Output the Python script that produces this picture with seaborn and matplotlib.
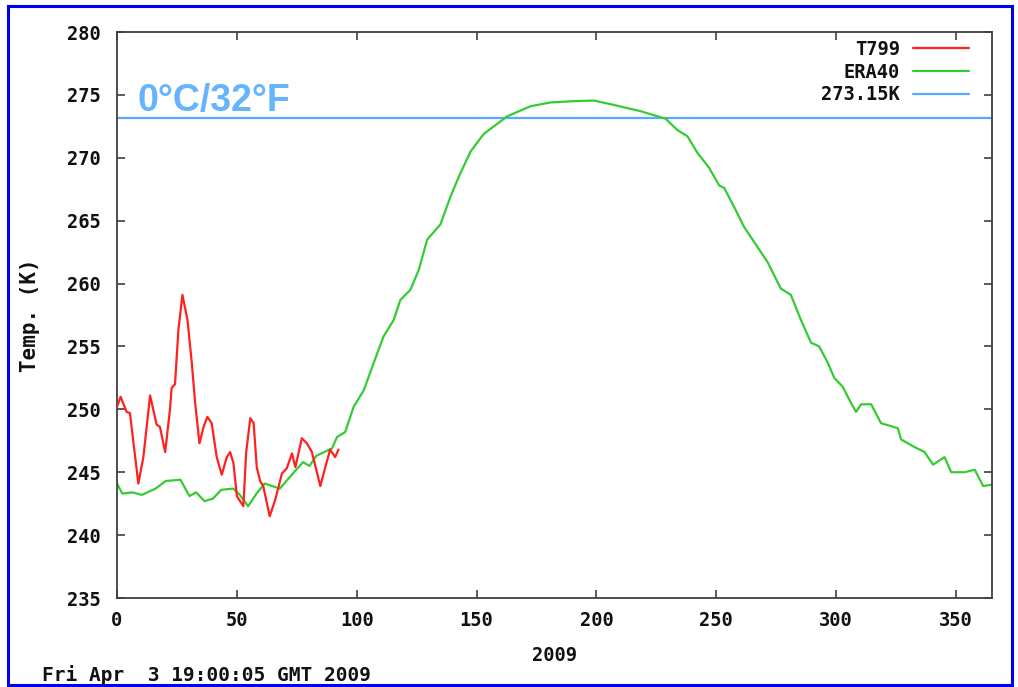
import matplotlib
matplotlib.use("Agg")
import matplotlib.pyplot as plt
import seaborn as sns
import pandas as pd
from matplotlib.patches import Rectangle

# ---- data ----
t799_day = [0, 1.5, 4, 5.4, 8.9, 11, 13.8, 16.5, 17.9, 20.1, 22.1, 22.8, 24.2, 25.6, 27.3,
            29.4, 31.2, 32.6, 34.4, 36.1, 37.7, 39.5, 41.6, 43.7, 45.8, 47.2, 48.6, 50,
            52.7, 53.9, 55.6, 57, 58.3, 59.7, 61, 63.7, 66, 68.8, 70.8, 73, 74.4, 77.1,
            79.2, 81.3, 84.8, 86.9, 88.9, 91, 92.4]
t799_temp = [250.2, 251.0, 249.8, 249.7, 244.1, 246.2, 251.1, 248.8, 248.6, 246.6, 250.0,
             251.7, 252.0, 256.3, 259.1, 257.1, 253.7, 250.5, 247.3, 248.6, 249.4, 248.9,
             246.2, 244.8, 246.2, 246.6, 245.7, 243.1, 242.3, 246.6, 249.3, 248.9, 245.4,
             244.3, 243.9, 241.5, 242.8, 244.9, 245.3, 246.5, 245.4, 247.7, 247.3, 246.6,
             243.9, 245.4, 246.8, 246.2, 246.8]

era40_day = [0, 2.2, 6.3, 10.4, 16.1, 20.3, 26.5, 30.2, 33, 36.5, 40, 43.5, 48.5, 51.2,
             54.7, 58.2, 61.6, 67.9, 73.4, 77.6, 80.3, 83.1, 89.7, 91.8, 95.2, 98.7, 102.9,
             107.1, 111.2, 115.4, 118.2, 122.4, 125.9, 129.4, 134.9, 139.1, 142.6, 147.5,
             153, 158.6, 162.8, 172.5, 180.9, 190.6, 199, 207.3, 218.5, 228.9, 233.8, 238,
             242.1, 247, 251.2, 253.3, 257.4, 261.6, 266.5, 271.4, 276.9, 281.1, 285.3,
             289.5, 292.9, 296.5, 299.2, 302.7, 306.2, 308.3, 310.4, 314.6, 318.7, 325.7,
             327.1, 332.7, 336.9, 340.4, 345.2, 348, 353.6, 357.8, 361.3, 364.7]
era40_temp = [244.1, 243.3, 243.4, 243.2, 243.7, 244.3, 244.4, 243.1, 243.4, 242.7, 242.9,
              243.6, 243.7, 243.2, 242.3, 243.3, 244.1, 243.7, 244.9, 245.8, 245.5, 246.3,
              246.9, 247.8, 248.2, 250.2, 251.5, 253.7, 255.8, 257.1, 258.7, 259.5, 261.1,
              263.5, 264.7, 266.9, 268.5, 270.5, 271.9, 272.7, 273.3, 274.1, 274.4, 274.5,
              274.55, 274.2, 273.7, 273.1, 272.2, 271.7, 270.4, 269.2, 267.8, 267.6, 266.1,
              264.5, 263.1, 261.7, 259.6, 259.1, 257.1, 255.3, 255.0, 253.7, 252.5, 251.8,
              250.5, 249.8, 250.4, 250.4, 248.9, 248.5, 247.6, 247.0, 246.6, 245.6, 246.2,
              245.0, 245.0, 245.2, 243.9, 244.0]

freezing_k = 273.15
x_ticks = [0, 50, 100, 150, 200, 250, 300, 350]
y_ticks = [235, 240, 245, 250, 255, 260, 265, 270, 275, 280]
series_labels = ["T799", "ERA40", "273.15K"]
x_label = "2009"
y_label = "Temp. (K)"
freeze_text = "0°C/32°F"
footer_text = "Fri Apr  3 19:00:05 GMT 2009"

# ---- styling ----
sns.set_theme(style="white")
plt.rcParams['font.family'] = ['DejaVu Sans Mono']
plt.rcParams['font.weight'] = 'bold'
FS = 13.5
RED = "#ff2020"
GREEN = "#33cc33"
BLUE = "#55aaff"
SPINE = "#404040"

W, H = 1018, 687
fig = plt.figure(figsize=(W / 100, H / 100), dpi=100)
fig.patch.set_facecolor("white")
ax = fig.add_axes([117 / W, 89 / H, 875 / W, 566 / H])

t799 = pd.DataFrame({"day": t799_day, "temp": t799_temp})
era = pd.DataFrame({"day": era40_day, "temp": era40_temp})

sns.lineplot(data=t799, x="day", y="temp", ax=ax, color=RED, lw=1.6,
             label=series_labels[0], zorder=3)
sns.lineplot(data=era, x="day", y="temp", ax=ax, color=GREEN, lw=1.6,
             label=series_labels[1], zorder=2)
ax.axhline(freezing_k, color=BLUE, lw=1.6, label=series_labels[2], zorder=1)

ax.set_xlim(0, 365)
ax.set_ylim(235, 280)
ax.set_xticks(x_ticks)
ax.set_yticks(y_ticks)
ax.set_xticklabels([str(v) for v in x_ticks], fontsize=FS, fontweight="bold")
ax.set_yticklabels([str(v) for v in y_ticks], fontsize=FS, fontweight="bold")
ax.tick_params(direction="in", length=6, width=1.2, color=SPINE,
               top=True, right=True, bottom=True, left=True, labelcolor="#111111")
ax.tick_params(axis="y", pad=12)
ax.tick_params(axis="x", pad=9)
for s in ax.spines.values():
    s.set_color(SPINE)
    s.set_linewidth(1.3)
    s.set_visible(True)

ax.set_xlabel(x_label, fontsize=FS, fontweight="bold", color="#111111")
ax.set_ylabel(y_label, fontsize=15, fontweight="bold", color="#111111")
ax.xaxis.set_label_coords(0.5, -(646 - 598) / 566)
ax.yaxis.set_label_coords((40 - 117) / 875, 0.5)

ax.text(8.6, 273.75, freeze_text, fontsize=27, fontweight="bold",
        family=["Liberation Sans", "DejaVu Sans"], color="#66b3ff",
        ha="left", va="baseline")

leg = ax.legend(loc="upper right", bbox_to_anchor=(0.974, 0.986), frameon=False,
                markerfirst=False, handlelength=3.0, handletextpad=0.7,
                labelspacing=0.2, borderpad=0, borderaxespad=0,
                prop={"family": "DejaVu Sans Mono", "weight": "bold", "size": FS})
for t in leg.get_texts():
    t.set_color("#111111")

fig.text(42 / W, 1 - 681 / H, footer_text, fontsize=14, fontweight="bold",
         color="#111111", ha="left", va="baseline")

fig.add_artist(Rectangle((8 / W, 2 / H), 1004 / W, 679 / H, transform=fig.transFigure,
                         fill=False, edgecolor="#0000ee", linewidth=2.2))

fig.savefig("out.png", dpi=100)
